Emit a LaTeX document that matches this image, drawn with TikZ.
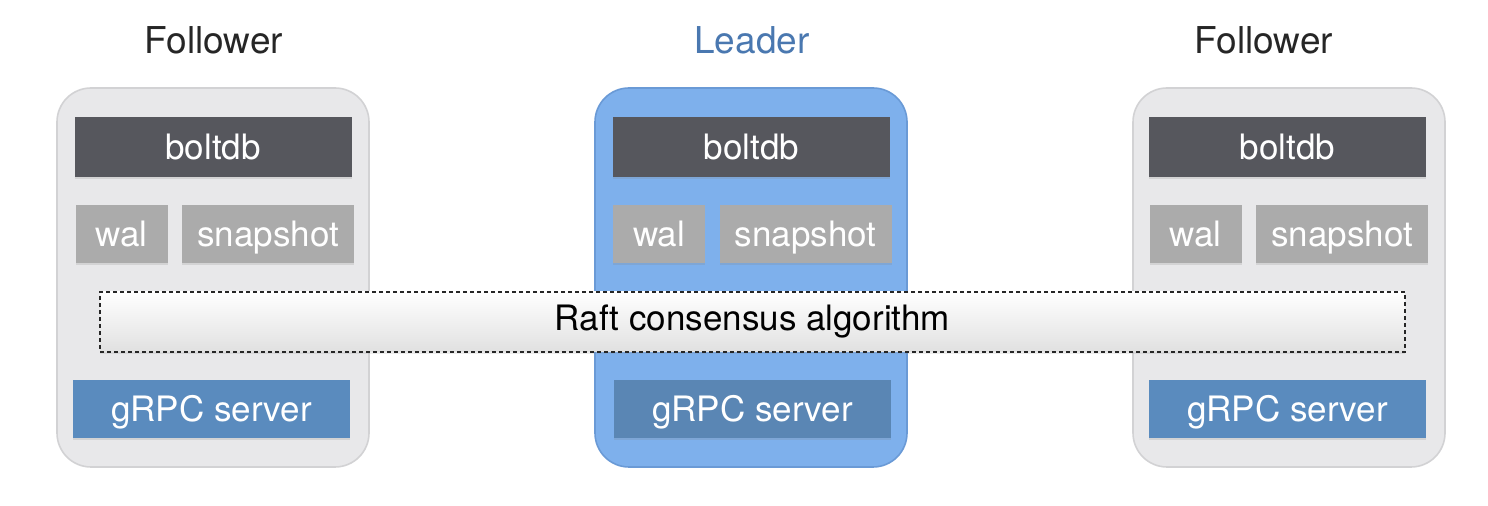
\documentclass[tikz,border=0pt]{standalone}
\usepackage{fontspec}
\setmainfont{TeX Gyre Heros}
\usepackage{tikz}
\usetikzlibrary{shapes,positioning,shadows}
\usetikzlibrary{calc}

\definecolor{nodegray}{HTML}{E8E8EA}
\definecolor{nodeline}{HTML}{D2D2D4}
\definecolor{leadblue}{HTML}{7EB0EC}
\definecolor{leadline}{HTML}{6A9AD6}
\definecolor{dbdark}{HTML}{56575D}
\definecolor{logray}{HTML}{ABABAB}
\definecolor{rpcblue}{HTML}{5A8BBE}
\definecolor{rpcdark}{HTML}{5A86B4}
\definecolor{titleblue}{HTML}{4A78B0}

\tikzset{
  server/.style={rounded corners=17pt,minimum width=156pt,minimum height=189.5pt,fill=nodegray,draw=nodeline,line width=0.8pt},
  part/.style={inner sep=0pt,text=white,font=\fontsize{17.5}{20}\selectfont,
    text height=12.6pt,text depth=0pt,
    drop shadow={opacity=0.2,shadow xshift=0pt,shadow yshift=-0.8pt}},
  db/.style={part,fill=dbdark,minimum width=138.5pt,minimum height=30pt},
  wal/.style={part,fill=logray,minimum width=46pt,minimum height=29pt},
  snap/.style={part,fill=logray,minimum width=86pt,minimum height=29pt},
  rpc/.style={part,fill=rpcblue,minimum width=138.5pt,minimum height=29pt},
  role/.style={font=\fontsize{18.5}{22}\selectfont,text=black!85}
}

\begin{document}
\begin{tikzpicture}[x=0.5pt,y=-0.5pt]
		\useasboundingbox (0,0) rectangle (1488,506);
		% three servers
		\node[server] (srvA) at (213,277.5) {};
		\node[server,fill=leadblue,draw=leadline] (srvB) at (751,277.5) {};
		\node[server] (srvC) at (1289,277.5) {};
		\node[role] (roleA) at (214,40) {Follower};
		\node[role,text=titleblue] (roleB) at (752,40) {Leader};
		\node[role] (roleC) at (1264,40) {Follower};
		% storage
		\node[db] (dbA) at (213,147) {boltdb};
		\node[db] (dbB) at (751.5,147) {boltdb};
		\node[db] (dbC) at (1287.5,147) {boltdb};
		\node[wal] (walA) at (121.5,234) {wal};
		\node[snap] (snapA) at (268,234) {snapshot};
		\node[wal] (walB) at (659,234) {wal};
		\node[snap] (snapB) at (805.5,234) {snapshot};
		\node[wal] (walC) at (1195.5,234) {wal};
		\node[snap] (snapC) at (1342,234) {snapshot};
		% rpc
		\node[rpc] (rpcA) at (211.5,409) {gRPC server};
		\node[rpc,fill=rpcdark] (rpcB) at (752.5,409) {gRPC server};
		\node[rpc] (rpcC) at (1287.5,409) {gRPC server};
		% consensus
		\node[draw=black!85,dashed,dash pattern=on 2pt off 1.5pt,line width=0.6pt,
			top color=white,bottom color=black!12,minimum width=652.5pt,minimum height=30pt,
			font=\fontsize{17.5}{20}\selectfont,drop shadow={opacity=0.15,shadow xshift=0pt,shadow yshift=-1pt}]
			(raft) at (752.5,322) {Raft consensus algorithm};
\end{tikzpicture}
\end{document}
